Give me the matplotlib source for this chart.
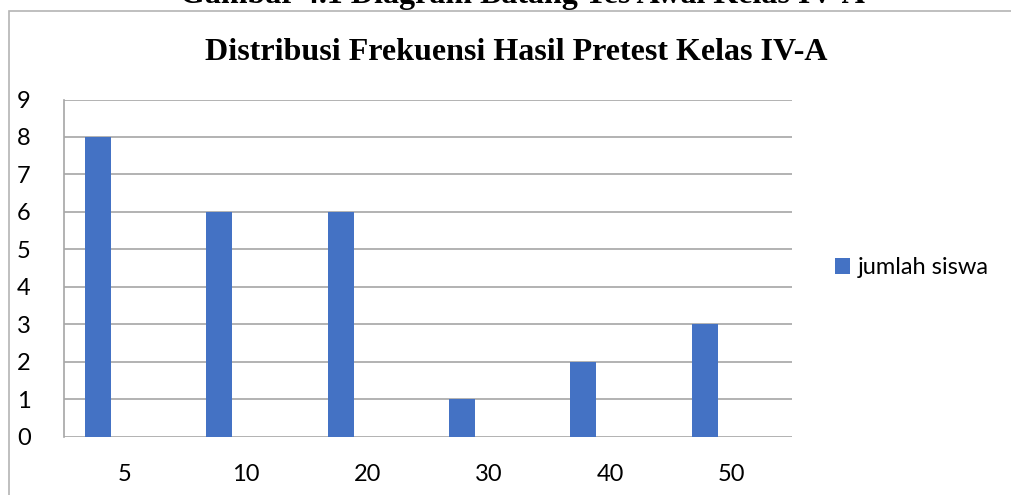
import numpy as np
import matplotlib.pyplot as plt
from matplotlib.patches import Rectangle

# data
categories = ["5", "10", "20", "30", "40", "50"]
jumlah_siswa = [8, 6, 6, 1, 2, 3]
y_ticks = list(range(0, 10))

W, H = 1011, 495
fig = plt.figure(figsize=(W / 100, H / 100), dpi=100)

# outer chart border (clipped at right and bottom)
fig.patches.append(Rectangle((8.5 / W, -0.1), 1.2, 1 - 10.5 / H + 0.1,
                             transform=fig.transFigure, fill=False,
                             edgecolor="#b4b4b4", linewidth=1.2))

# clipped caption at very top
fig.text(0.517, 1 - 3.5 / H, "Gambar 4.1 Diagram Batang Tes Awal Kelas IV-A",
         ha="center", va="baseline", fontsize=23, fontweight="bold",
         family="Liberation Serif")

fig.text(0.511, 1 - 52 / H, "Distribusi Frekuensi Hasil Pretest Kelas IV-A",
         ha="center", va="center", fontsize=23, fontweight="bold",
         family="Liberation Serif")

ax = fig.add_axes([64 / W, 58.5 / H, 728 / W, 337 / H])
x = np.arange(len(categories))
ax.bar(x - 0.22, jumlah_siswa, width=0.215, color="#4472C4",
       label="jumlah siswa", zorder=3)

ax.set_xlim(-0.5, len(categories) - 0.5)
ax.set_ylim(0, 9)
ax.set_yticks(y_ticks)
ax.set_xticks(x)
ax.set_xticklabels(categories)
ax.grid(axis="y", color="#a6a6a6", linewidth=1.2, zorder=0)
for s in ["top", "right", "bottom"]:
    ax.spines[s].set_visible(False)
ax.spines["left"].set_color("#a6a6a6")
ax.spines["left"].set_linewidth(1.2)
ax.tick_params(axis="y", length=0, pad=24, labelsize=17)
ax.tick_params(axis="x", length=0, pad=20, labelsize=17)
for lbl in ax.get_xticklabels() + ax.get_yticklabels():
    lbl.set_family("Lato")

ax.legend(loc="center left", bbox_to_anchor=(1.03, 0.5), frameon=False,
          prop={"family": "Lato", "size": 17}, handlelength=0.65,
          handleheight=0.65, handletextpad=0.3)

fig.savefig("out.png", dpi=100)
